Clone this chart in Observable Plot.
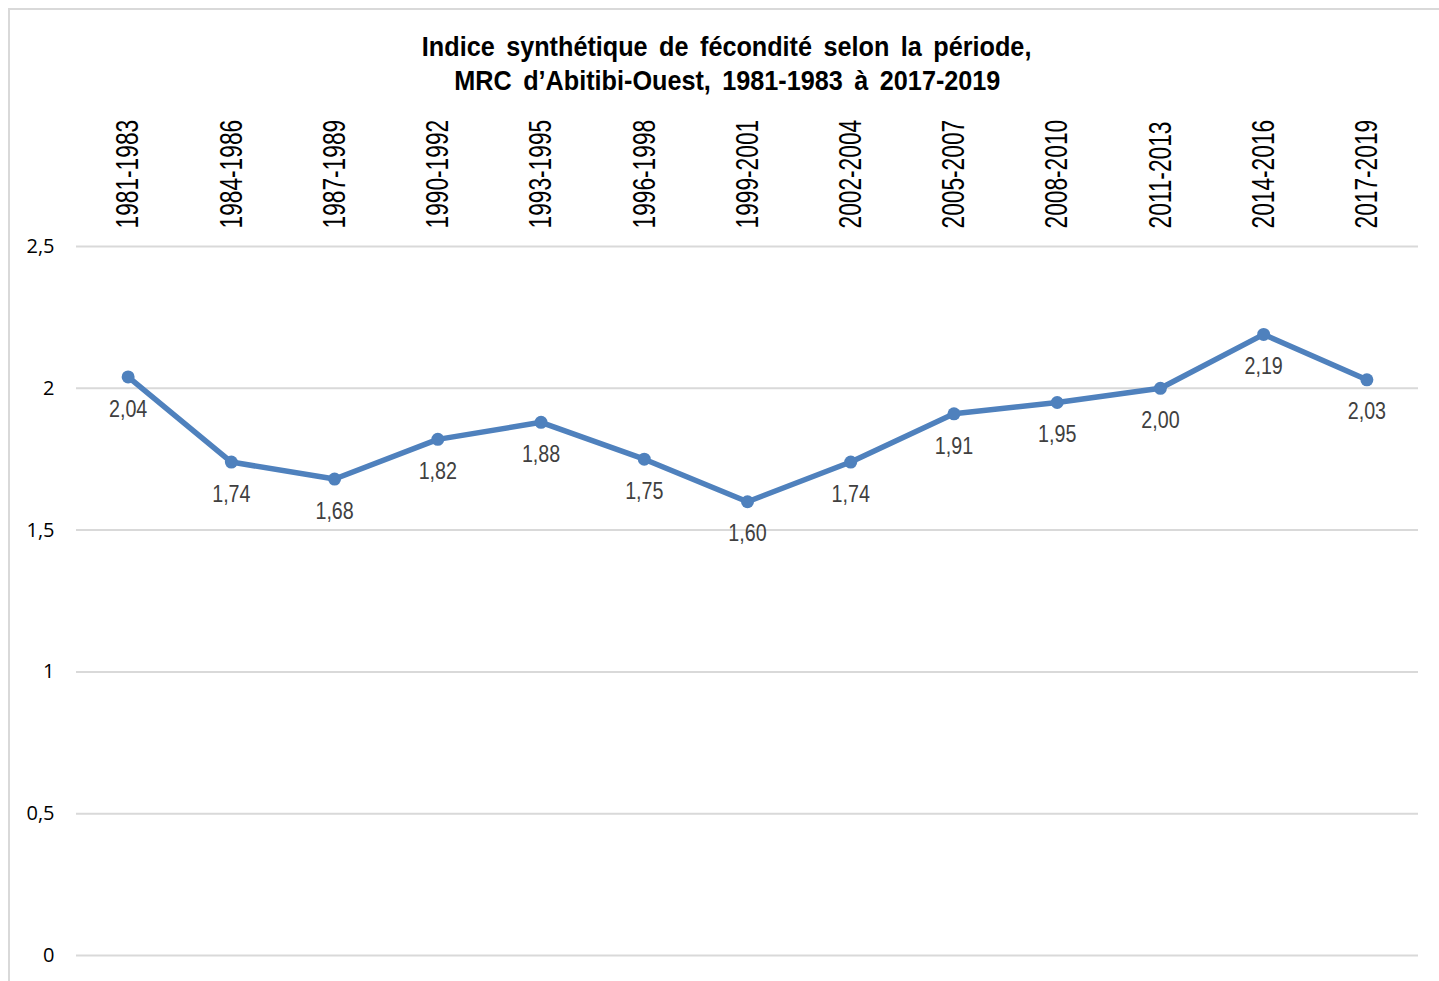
<!DOCTYPE html>
<html>
<head>
<meta charset="utf-8">
<script src="https://cdn.jsdelivr.net/npm/d3@7"></script>
<script src="https://cdn.jsdelivr.net/npm/@observablehq/plot@0.6"></script>
<style>
  html, body { margin: 0; padding: 0; background: #fff; overflow: hidden; }
  #frame { position: absolute; left: 8px; top: 8px; width: 1431px; height: 990px;
           border-left: 2px solid #d9d9d9; border-top: 2px solid #d9d9d9; box-sizing: border-box; }
  #title { position: absolute; left: 0; top: 0; width: 1454px; height: 100px; box-sizing: border-box;
           padding-top: 30px; text-align: center; font-family: "Liberation Sans", Arial, sans-serif;
           font-weight: bold; font-size: 28px; line-height: 34px; color: #000; }
  #title span { display: inline-block; white-space: nowrap; transform-origin: 50% 50%; word-spacing: 5px; }
  #chart { position: absolute; left: 0; top: 100px; }
</style>
</head>
<body>
<div id="frame"></div>
<div id="title"><span>Indice synthétique de fécondité selon la période,</span><br><span>MRC d’Abitibi-Ouest, 1981-1983 à 2017-2019</span></div>
<div id="chart"></div>
<script>
const periods = ["1981-1983","1984-1986","1987-1989","1990-1992","1993-1995","1996-1998","1999-2001","2002-2004","2005-2007","2008-2010","2011-2013","2014-2016","2017-2019"];
const values = [2.04, 1.74, 1.68, 1.82, 1.88, 1.75, 1.60, 1.74, 1.91, 1.95, 2.00, 2.19, 2.03];
const yTicks = [0, 0.5, 1, 1.5, 2, 2.5];

const data = periods.map((p, i) => ({period: p, value: values[i]}));
const comma = d => String(d).replace(".", ",");
const comma2 = d => d.toFixed(2).replace(".", ",");
const sans = '"Liberation Sans", Arial, sans-serif';
const blue = "#4F81BD";

const plot = Plot.plot({
  width: 1439,
  height: 881,
  marginTop: 146,
  marginBottom: 26,
  marginLeft: 76,
  marginRight: 21,
  style: {background: "transparent", overflow: "visible"},
  x: {type: "band", domain: periods, padding: 0, round: false},
  y: {domain: [0, 2.5], ticks: yTicks},
  marks: [
    Plot.gridY(yTicks, {stroke: "#d9d9d9", strokeOpacity: 1, strokeWidth: 2}),
    Plot.axisY(yTicks, {tickSize: 0, tickPadding: 22, tickFormat: comma, fontSize: 20,
      fontFamily: '"Open Sans", sans-serif', fill: "#000", label: null}),
    Plot.axisX({anchor: "top", tickRotate: -90, tickSize: 0, tickPadding: 18, fontSize: 32,
      fontFamily: sans, fill: "#000", label: null}),
    Plot.line(data, {x: "period", y: "value", stroke: blue, strokeWidth: 5.5, strokeLinejoin: "round"}),
    Plot.dot(data, {x: "period", y: "value", r: 6.5, fill: blue, stroke: null}),
    Plot.text(data, {x: "period", y: "value", text: d => comma2(d.value), dy: 32, fontSize: 24,
      fontFamily: sans, fill: "#404040"})
  ]
});
document.getElementById("chart").appendChild(plot);

// condense text horizontally (Arial Narrow look)
function condense(sel, factor) {
  plot.querySelectorAll(sel).forEach(t => {
    const len = t.getComputedTextLength();
    t.setAttribute("textLength", len * factor);
    t.setAttribute("lengthAdjust", "spacingAndGlyphs");
  });
}
condense('g[aria-label="x-axis tick label"] text', 0.71);
condense('g[aria-label="text"] text', 0.82);
document.querySelectorAll("#title span").forEach(s => { s.style.transform = "scaleX(0.9)"; });
</script>
</body>
</html>
